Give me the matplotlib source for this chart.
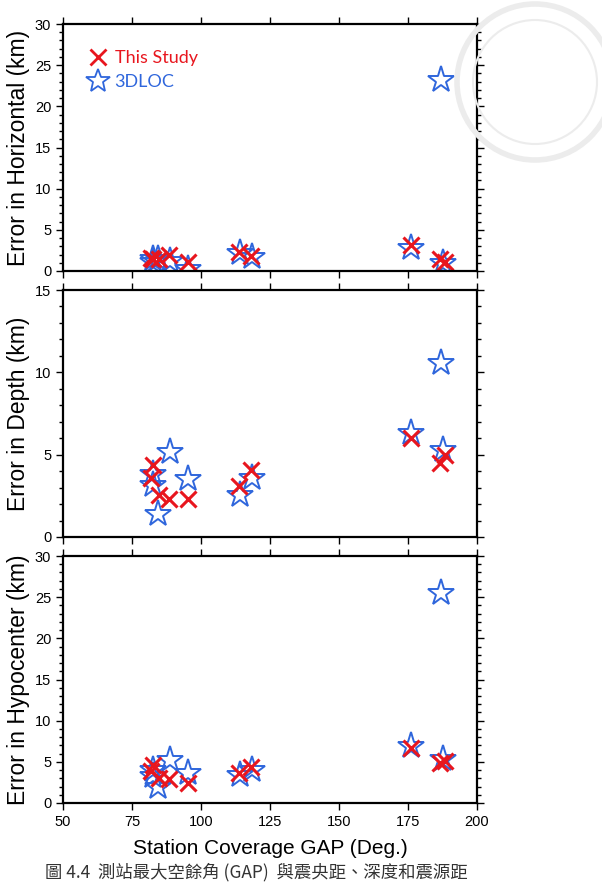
import matplotlib.pyplot as plt
from matplotlib.lines import Line2D
from matplotlib.ticker import MultipleLocator
from matplotlib.patches import Circle

# values
gap_this = [82.5, 82.0, 84.9, 88.5, 95.4, 113.9, 118.1, 176.0, 186.6, 188.4]
horiz_this = [1.4, 1.6, 1.5, 1.9, 1.1, 2.35, 1.8, 3.15, 1.4, 1.1]
depth_this = [4.4, 3.6, 2.55, 2.3, 2.3, 3.1, 4.05, 6.0, 4.5, 5.0]
hypo_this = [4.6, 3.9, 3.0, 2.9, 2.4, 3.7, 4.4, 6.65, 4.9, 5.1]

gap_3d = [82.5, 82.5, 84.5, 88.8, 95.4, 114.1, 118.4, 176.0, 187.0, 187.8]
horiz_3d = [1.05, 1.5, 1.4, 1.2, 0.3, 2.15, 1.65, 2.75, 23.2, 0.95]
depth_3d = [3.85, 3.15, 1.4, 5.15, 3.5, 2.55, 3.6, 6.3, 10.55, 5.3]
hypo_3d = [4.0, 3.3, 2.0, 5.2, 3.6, 3.35, 4.0, 6.9, 25.5, 5.4]

panels = [
    ("Error in Horizontal (km)", horiz_this, horiz_3d, 30),
    ("Error in Depth (km)", depth_this, depth_3d, 15),
    ("Error in Hypocenter (km)", hypo_this, hypo_3d, 30),
]
xticks = [50, 75, 100, 125, 150, 175, 200]

red = "#e8161e"
blue = "#2f66dc"
W, H = 602, 883

plt.rcParams['font.family'] = ['Liberation Sans', 'DejaVu Sans']
fig = plt.figure(figsize=(W / 100, H / 100), dpi=100)

# faint watermark (university seal), in inches
for r, lw in [(0.78, 4), (0.62, 1.5)]:
    fig.patches.append(Circle((5.35, (H - 82) / 100), r, transform=fig.dpi_scale_trans,
                              fill=False, ec="#ececec", lw=lw, zorder=0))

tops = [24, 290, 556]
left, right = 63, 477
ph = 247
axes = []
for (ylabel, vt, v3, ymax), top in zip(panels, tops):
    ax = fig.add_axes([left / W, 1 - (top + ph) / H, (right - left) / W, ph / H])
    ax.patch.set_alpha(0)
    ax.plot(gap_3d, v3, linestyle='none', marker='*', markersize=20,
            markerfacecolor='none', markeredgecolor=blue, markeredgewidth=1.4)
    ax.plot(gap_this, vt, linestyle='none', marker='x', markersize=12,
            color=red, markeredgewidth=2.2)
    ax.set_xlim(50, 200)
    ax.set_ylim(0, ymax)
    ax.set_xticks(xticks)
    ax.yaxis.set_major_locator(MultipleLocator(5))
    ax.yaxis.set_minor_locator(MultipleLocator(1))
    ax.tick_params(which='both', direction='out', top=True, right=True,
                   labelsize=10.5, width=1)
    ax.tick_params(which='major', length=5)
    ax.tick_params(which='minor', length=3)
    for s in ax.spines.values():
        s.set_linewidth(1.6)
    ax.set_ylabel(ylabel, fontsize=16.5)
    ax.yaxis.set_label_coords(-0.08, 0.5)
    if top != tops[-1]:
        ax.tick_params(labelbottom=False)
    axes.append(ax)

axes[-1].set_xlabel("Station Coverage GAP (Deg.)", fontsize=15, labelpad=7)

handles = [
    Line2D([], [], linestyle='none', marker='x', markersize=12, color=red,
           markeredgewidth=2),
    Line2D([], [], linestyle='none', marker='*', markersize=18,
           markerfacecolor='none', markeredgecolor=blue, markeredgewidth=1.3),
]
leg = axes[0].legend(handles, ["This Study", "3DLOC"], loc='upper left',
                     bbox_to_anchor=(0.02, 0.96), frameon=False,
                     handletextpad=0.3, labelspacing=0.45, handlelength=1.2,
                     prop={'family': 'Lato', 'size': 13})
for txt, c in zip(leg.get_texts(), [red, blue]):
    txt.set_color(c)

fig.text(45 / W, 1 - 863 / H, "圖 4.4  測站最大空餘角 (GAP)  與震央距、深度和震源距",
         fontsize=12.5, va='top', ha='left',
         family=['Noto Sans CJK TC', 'DejaVu Sans'], color='#333333')

fig.savefig("out.png", dpi=100)
